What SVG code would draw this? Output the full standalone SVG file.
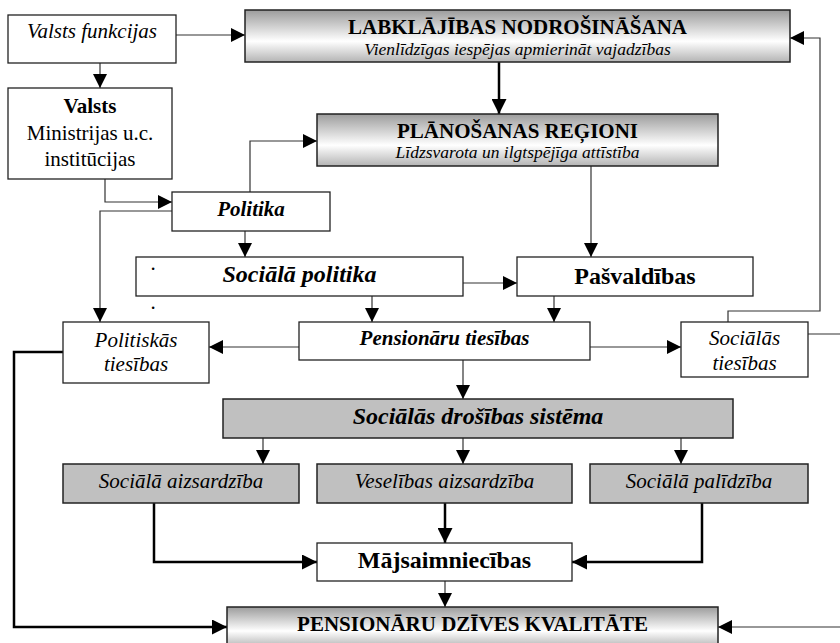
<svg xmlns="http://www.w3.org/2000/svg" width="840" height="643" viewBox="0 0 840 643" font-family="'Liberation Serif', 'DejaVu Serif', serif">
<defs>
<linearGradient id="cyl" x1="0" y1="0" x2="0" y2="1">
<stop offset="0" stop-color="#9c9c9c"/>
<stop offset="0.6" stop-color="#ffffff"/>
<stop offset="1" stop-color="#b4b4b4"/>
</linearGradient>
<marker id="ah" markerUnits="userSpaceOnUse" markerWidth="15" markerHeight="15" refX="15" refY="7.5" orient="auto">
<path d="M0,0 L15,7.5 L0,15 Z" fill="#000"/>
</marker>
<marker id="ahs" markerUnits="userSpaceOnUse" markerWidth="14" markerHeight="14" refX="14" refY="7" orient="auto">
<path d="M0,0 L14,7 L0,14 Z" fill="#000"/>
</marker>
<style>
.box{fill:#fff;stroke:#222;stroke-width:1.3}
.grad{fill:url(#cyl);stroke:#222;stroke-width:1.5}
.grey{fill:#c0c0c0;stroke:#222;stroke-width:1.5}
text{font-family:'Liberation Serif','DejaVu Serif',serif}
.t{font-size:21px;fill:#000;text-anchor:middle}
.b{font-weight:bold}
.i{font-style:italic}
.big{font-size:24px}
.sub{font-size:17.5px;font-style:italic}
.thin{fill:none;stroke:#333;stroke-width:1.2;marker-end:url(#ahs)}
.thick{fill:none;stroke:#000;stroke-width:2.5;marker-end:url(#ah)}
</style>
</defs>
<rect width="840" height="643" fill="#fff"/>

<g id="connectors">
<path class="thin" d="M176,35 H245" marker-end="url(#ah)"/>
<path class="thin" d="M100,63 V88" marker-end="url(#ah)"/>
<path class="thin" d="M105,179 V202 H172"/>
<path class="thin" d="M250,192 V141 H317"/>
<path class="thick" d="M499,62 V114"/>
<path class="thin" d="M591,166 V257"/>
<path class="thin" d="M172,211 H100 V322"/>
<path class="thin" d="M245,231 V257"/>
<path class="thin" d="M463,283 H517"/>
<path class="thin" d="M372,296 V322"/>
<path class="thin" d="M554,296 V322"/>
<path class="thin" d="M299,347 H209"/>
<path class="thin" d="M590,347 H681"/>
<path class="thin" d="M728,322 V311 H820 V38 H790"/>
<path class="thin" d="M808,334 H846 V627 H718"/>
<path class="thick" d="M63,352 H14 V627 H227"/>
<path class="thin" d="M463,360 V399"/>
<path class="thin" d="M263,438 V464"/>
<path class="thin" d="M463,438 V464"/>
<path class="thin" d="M681,438 V464"/>
<path class="thick" d="M154,503 V562 H317"/>
<path class="thick" d="M445,503 V543"/>
<path class="thick" d="M702,503 V562 H572"/>
<path class="thin" d="M445,581 V607"/>
</g>

<g id="valsts-funkcijas">
<rect class="box" x="8" y="15" width="168" height="48"/>
<text class="t i" x="92" y="38">Valsts funkcijas</text>
</g>
<g id="labklajibas">
<rect class="grad" x="245" y="10" width="545" height="52"/>
<text class="t b" x="517.5" y="33.5">LABKLĀJĪBAS NODROŠINĀŠANA</text>
<text class="t sub" x="517.5" y="54.5">Vienlīdzīgas iespējas apmierināt vajadzības</text>
</g>
<g id="valsts">
<rect class="box" x="8" y="88" width="164" height="91"/>
<text class="t b" x="90" y="113">Valsts</text>
<text class="t" x="90" y="140">Ministrijas u.c.</text>
<text class="t" x="90" y="166">institūcijas</text>
</g>
<g id="planosanas">
<rect class="grad" x="317" y="114" width="401" height="52"/>
<text class="t b" x="517.5" y="138">PLĀNOŠANAS REĢIONI</text>
<text class="t sub" x="517.5" y="158">Līdzsvarota un ilgtspējīga attīstība</text>
</g>
<g id="politika">
<rect class="box" x="172" y="192" width="158" height="39"/>
<text class="t b i" x="251" y="216">Politika</text>
</g>
<g id="socialapolitika">
<rect class="box" x="136" y="257" width="327" height="39"/>
<text class="t b i big" x="299.5" y="282">Sociālā politika</text>
<text class="t" x="153" y="270">.</text>
<text class="t" x="153" y="309">.</text>
</g>
<g id="pasvaldibas">
<rect class="box" x="517" y="257" width="236" height="39"/>
<text class="t b big" x="635" y="284">Pašvaldības</text>
</g>
<g id="politiskas">
<rect class="box" x="63" y="322" width="146" height="61"/>
<text class="t i" x="136" y="347">Politiskās</text>
<text class="t i" x="136" y="371">tiesības</text>
</g>
<g id="pensionaru-tiesibas">
<rect class="box" x="299" y="322" width="291" height="38"/>
<text class="t b i" x="444.5" y="345">Pensionāru tiesības</text>
</g>
<g id="socialas-tiesibas">
<rect class="box" x="681" y="322" width="127" height="55"/>
<text class="t i" x="744.5" y="345">Sociālās</text>
<text class="t i" x="744.5" y="370">tiesības</text>
</g>
<g id="drosibas-sistema">
<rect class="grey" x="223" y="399" width="510" height="39"/>
<text class="t b i big" x="478" y="424">Sociālās drošības sistēma</text>
</g>
<g id="socaizsardziba">
<rect class="grey" x="63" y="464" width="236" height="39"/>
<text class="t i" x="181" y="488">Sociālā aizsardzība</text>
</g>
<g id="veselibas">
<rect class="grey" x="317" y="464" width="255" height="39"/>
<text class="t i" x="444.5" y="488">Veselības aizsardzība</text>
</g>
<g id="socpalidziba">
<rect class="grey" x="590" y="464" width="218" height="39"/>
<text class="t i" x="699" y="488">Sociālā palīdzība</text>
</g>
<g id="majsaimniecibas">
<rect class="box" x="317" y="543" width="255" height="38"/>
<text class="t b big" x="444.5" y="568">Mājsaimniecības</text>
</g>
<g id="dzives-kvalitate">
<rect class="grad" x="227" y="607" width="491" height="40"/>
<text class="t b" x="472.5" y="631">PENSIONĀRU DZĪVES KVALITĀTE</text>
</g>
</svg>
